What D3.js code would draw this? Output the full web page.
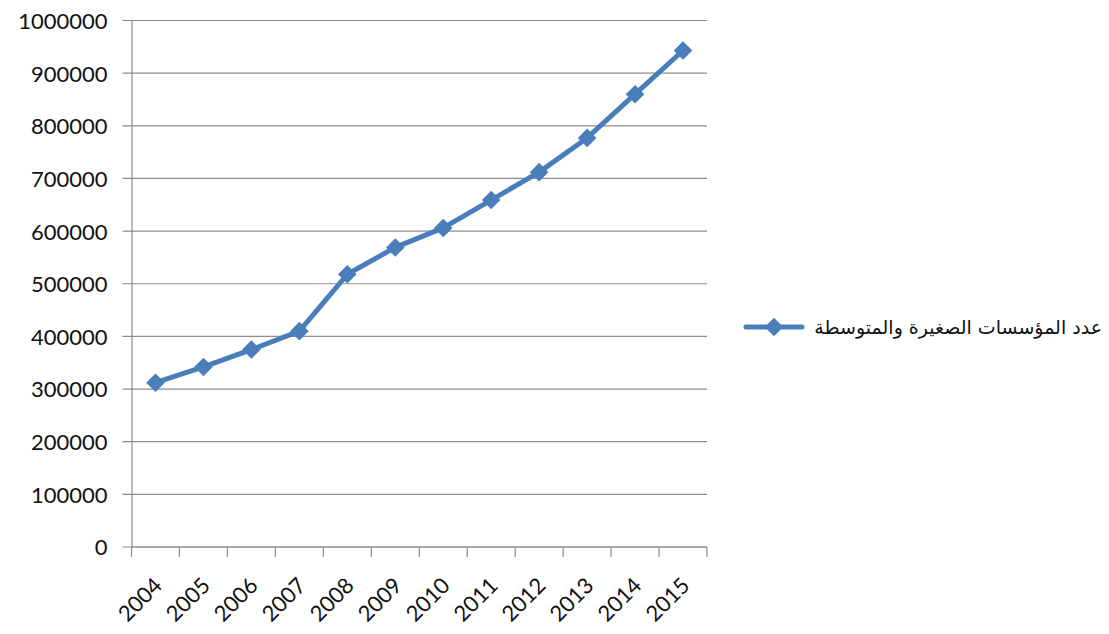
<!DOCTYPE html>
<html>
<head>
<meta charset="utf-8">
<script src="https://cdn.jsdelivr.net/npm/d3@7"></script>
<style>
  body { margin: 0; background: #fff; }
  .axis text { font-family: Lato, "Open Sans", sans-serif; font-size: 22px; fill: #111; }
  .axis path, .axis line { stroke: #8c8c8c; }
  .grid line { stroke: #8c8c8c; stroke-width: 1.2; }
</style>
</head>
<body>
<div id="chart"></div>
<script>
const years = ["2004", "2005", "2006", "2007", "2008", "2009", "2010", "2011", "2012", "2013", "2014", "2015"]
const enterprises = [312000, 342000, 375000, 410000, 518000, 569000, 606000, 659000, 712000, 777000, 860000, 943000]
const yTicks = [0, 100000, 200000, 300000, 400000, 500000, 600000, 700000, 800000, 900000, 1000000]
const seriesName = "عدد المؤسسات الصغيرة والمتوسطة"

const width = 1109;
const height = 634;
const margin = { top: 20.5, right: 402, left: 131.5, bottom: 87 };
const color = "#4a7ebb";

const svg = d3.select("div#chart").append("svg")
    .attr("width", width)
    .attr("height", height)

const innerW = width - margin.left - margin.right
const innerH = height - margin.top - margin.bottom

const x = d3.scaleBand().domain(years).range([0, innerW])
const y = d3.scaleLinear().domain([0, 1000000]).range([innerH, 0])

const g = svg.append("g")
    .attr("transform", `translate(${margin.left}, ${margin.top})`)

// gridlines (extend left past the axis like tick marks)
g.append("g").attr("class", "grid")
    .selectAll("line")
    .data(yTicks)
    .enter().append("line")
    .attr("x1", -9).attr("x2", innerW)
    .attr("y1", d => y(d)).attr("y2", d => y(d))

const yAxis = g.append("g").attr("class", "axis")
    .call(d3.axisLeft(y).tickValues(yTicks).tickFormat(d3.format("d")).tickSize(0).tickPadding(24))
yAxis.select(".domain").attr("stroke", "#8c8c8c").attr("stroke-width", 1.2)
yAxis.selectAll("text").attr("dy", "0.36em")

// x axis with ticks on band edges
const xAxisG = g.append("g").attr("class", "axis")
    .attr("transform", `translate(0, ${innerH})`)
xAxisG.append("line")
    .attr("x1", 0).attr("x2", innerW)
    .attr("stroke", "#8c8c8c").attr("stroke-width", 1.2)
xAxisG.selectAll(".edge")
    .data(years.concat(["end"]))
    .enter().append("line")
    .attr("x1", (d, i) => i < years.length ? x(d) : innerW)
    .attr("x2", (d, i) => i < years.length ? x(d) : innerW)
    .attr("y1", 0).attr("y2", 10)
    .attr("stroke", "#8c8c8c").attr("stroke-width", 1.2)
xAxisG.selectAll(".lbl")
    .data(years)
    .enter().append("text")
    .attr("text-anchor", "end")
    .attr("transform", d => `translate(${x(d) + x.bandwidth() / 2 + 8}, 40) rotate(-45)`)
    .text(d => d)

const line = d3.line()
    .x((d, i) => x(years[i]) + x.bandwidth() / 2)
    .y(d => y(d))

g.append("path")
    .datum(enterprises)
    .attr("fill", "none")
    .attr("stroke", color)
    .attr("stroke-width", 5)
    .attr("stroke-linejoin", "round")
    .attr("d", line)

const diamond = d3.symbol().type(d3.symbolDiamond2).size(220)
g.selectAll(".pt")
    .data(enterprises)
    .enter().append("path")
    .attr("fill", color)
    .attr("transform", (d, i) => `translate(${x(years[i]) + x.bandwidth() / 2}, ${y(d)})`)
    .attr("d", diamond)

// legend
const legend = svg.append("g").attr("transform", "translate(746, 327)")
legend.append("line")
    .attr("x1", 0).attr("x2", 56)
    .attr("stroke", color).attr("stroke-width", 5).attr("stroke-linecap", "round")
legend.append("path")
    .attr("transform", "translate(28, 0)")
    .attr("fill", color)
    .attr("d", diamond)
legend.append("text")
    .attr("x", 356).attr("y", 7)
    .attr("text-anchor", "end")
    .style("font-family", "'DejaVu Sans', sans-serif")
    .style("font-size", "19px")
    .attr("fill", "#111")
    .text(seriesName)
</script>
</body>
</html>
